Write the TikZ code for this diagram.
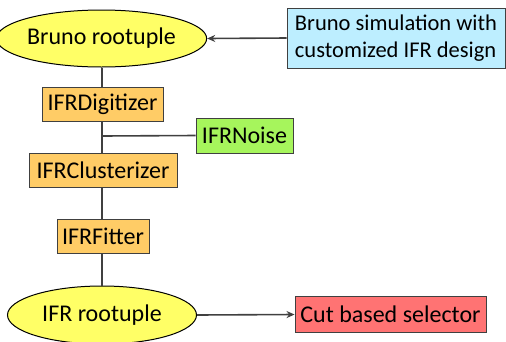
\documentclass[tikz,border=0pt]{standalone}
\usepackage{fontspec}
\setmainfont{Carlito}
\usetikzlibrary{shapes.geometric,arrows.meta}
\definecolor{ellyellow}{HTML}{FFFF66}
\definecolor{boxblue}{HTML}{BDEEFF}
\definecolor{boxorange}{HTML}{FFCC66}
\definecolor{boxgreen}{HTML}{A6F55C}
\definecolor{boxred}{HTML}{FF7373}
\definecolor{edge}{HTML}{404040}
\tikzset{
  ell/.style={ellipse, draw=black, line width=1pt, fill=ellyellow, inner sep=0pt},
  procbox/.style={rectangle, draw=edge, line width=0.9pt, inner sep=0pt, font=\fontsize{24}{26}\selectfont},
  conn/.style={draw=edge, line width=1.6pt},
  arr/.style={conn, -{Stealth[length=8pt,width=7pt]}}
}
\begin{document}
\begin{tikzpicture}[x=1pt,y=-1pt]
\useasboundingbox (0,0) rectangle (506,341);
\node[ell, minimum width=188pt, minimum height=57pt, font=\fontsize{24}{26}\selectfont] (bruno) at (101.5,38.5) {Bruno rootuple};
\node[procbox, fill=boxblue, minimum width=218pt, minimum height=60pt, align=left, font=\fontsize{22.5}{27}\selectfont] (sim) at (396,38) {Bruno simulation with\\customized IFR design};
\node[procbox, fill=boxorange, minimum width=121pt, minimum height=34pt] (dig) at (102.5,104) {IFRDigitizer};
\node[procbox, fill=boxgreen, minimum width=97pt, minimum height=35pt] (noise) at (244.5,135.5) {IFRNoise};
\node[procbox, fill=boxorange, minimum width=148pt, minimum height=34pt] (clu) at (103,170) {IFRClusterizer};
\node[procbox, fill=boxorange, minimum width=92pt, minimum height=34pt] (fit) at (103,236.5) {IFRFitter};
\node[ell, minimum width=189pt, minimum height=58pt, font=\fontsize{24}{26}\selectfont] (ifr) at (102,315) {IFR rootuple};
\node[procbox, fill=boxred, minimum width=191pt, minimum height=36pt] (cut) at (390.5,314.5) {Cut based selector};
\coordinate (j) at (102,136);
\draw[arr] (sim.west) -- (bruno.east);
\draw[conn] (bruno.south -| j) -- (dig.north -| j);
\draw[conn] (dig.south -| j) -- (clu.north -| j);
\draw[conn] (j) -- (noise.west);
\draw[conn] (clu.south -| j) -- (fit.north -| j);
\draw[conn] (fit.south -| j) -- (ifr.north);
\draw[arr] (ifr.east) -- (cut.west);
\end{tikzpicture}
\end{document}
